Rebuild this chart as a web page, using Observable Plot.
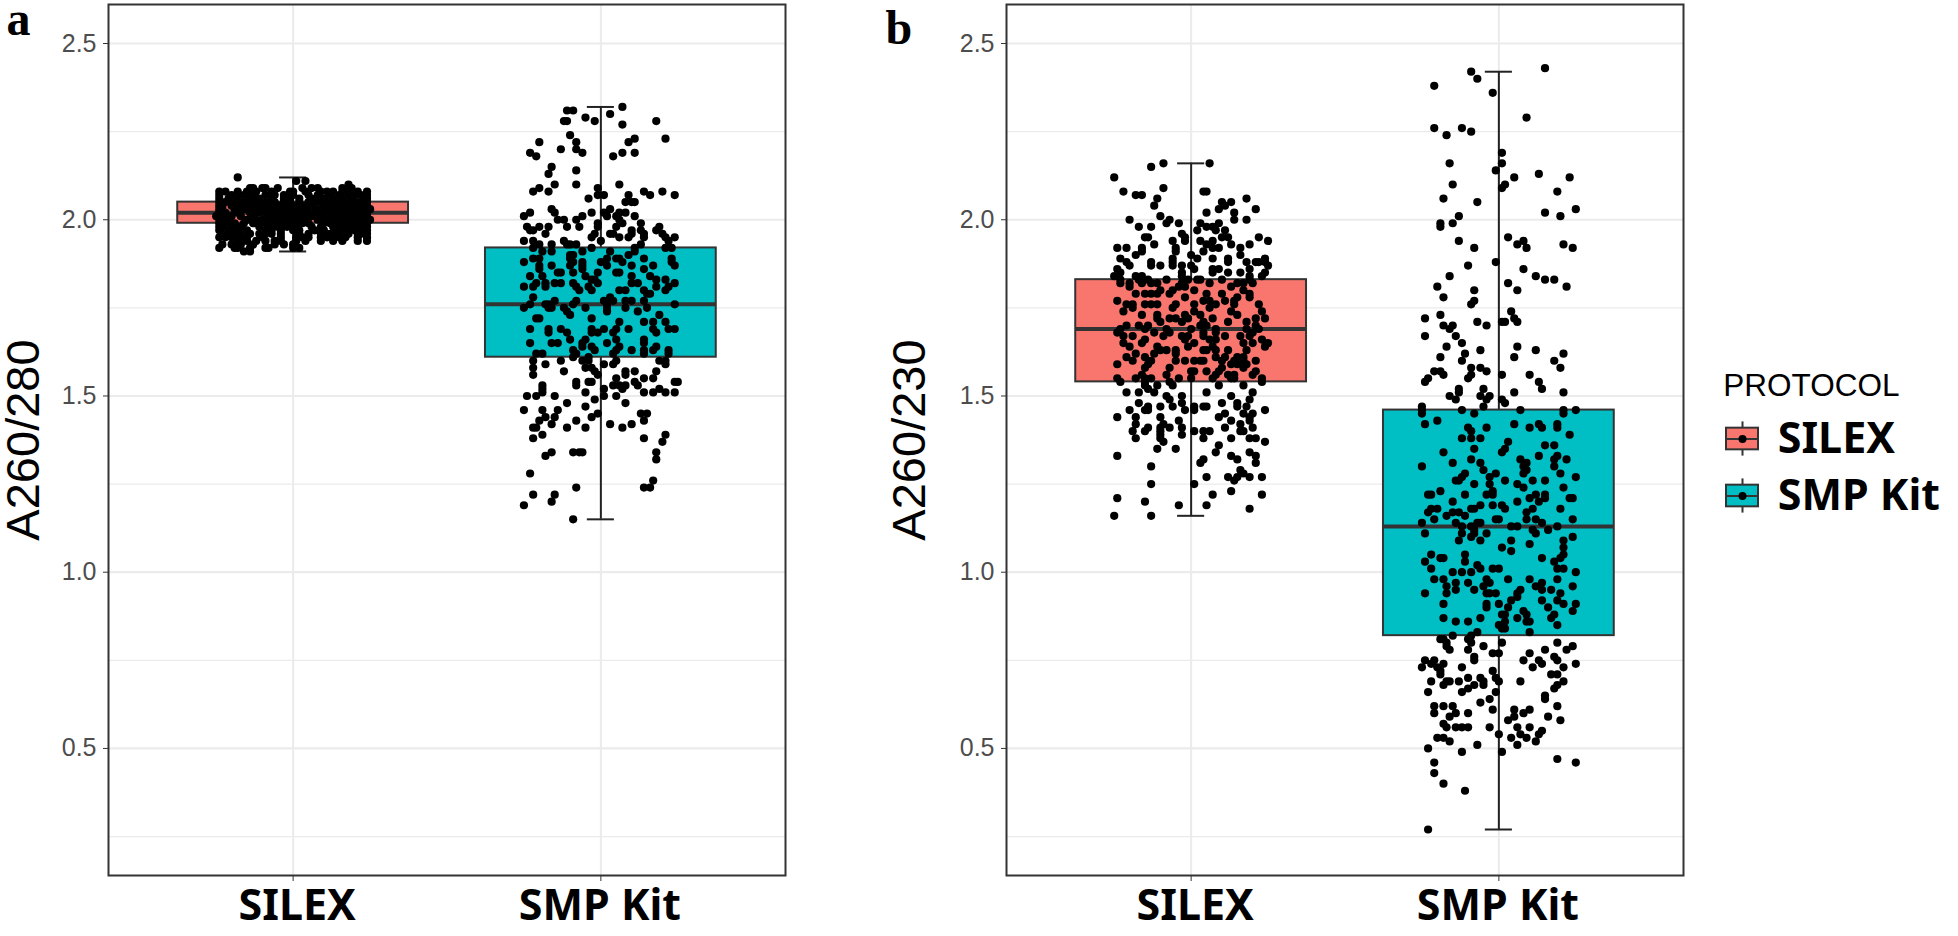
<!DOCTYPE html>
<html>
<head>
<meta charset="utf-8">
<script src="https://cdn.jsdelivr.net/npm/d3@7"></script>
<script src="https://cdn.jsdelivr.net/npm/@observablehq/plot@0.6"></script>
<style>
html,body{margin:0;padding:0;background:#fff;}
#page{position:relative;width:1958px;height:936px;overflow:hidden;}
</style>
</head>
<body>
<div id="page"></div>
<script>
const protocols = ["SILEX", "SMP Kit"];
const colors = ["#F8766D", "#00BFC4"];
const majorTicks = [0.5, 1, 1.5, 2, 2.5];
const minorTicks = [0.25, 0.75, 1.25, 1.75, 2.25];

// Box statistics, one entry per protocol
const a280Q1 = [1.99, 1.61], a280Median = [2.02, 1.76], a280Q3 = [2.05, 1.92], a280Min = [1.91, 1.15], a280Max = [2.12, 2.32];
const a230Q1 = [1.54, 0.82], a230Median = [1.69, 1.13], a230Q3 = [1.83, 1.46], a230Min = [1.16, 0.27], a230Max = [2.16, 2.42];

// Each row: a reading, then the horizontal jitter (hundredths of a category) of every sample at that reading
const a280Silex = [
[2.12,-18],[2.11,1,4],[2.10,18],[2.09,-14,-13,-10,-9,-5,3,6,8,16,19],
[2.08,-24,-22,-18,-15,-12,-7,-1,0,4,9,11,13,16,18,21,24],[2.07,-24,-20,-16,-13,-9,-6,-3,0,5,8,12,15,18,20,22,24],
[2.06,-24,-21,-18,-15,-13,-11,-7,-3,-1,2,6,10,13,16,19,23,24],
[2.05,-24,-22,-19,-16,-13,-9,-6,-3,-1,2,5,7,9,12,14,17,21,23,24],
[2.04,-24,-23,-20,-17,-14,-11,-8,-5,-2,0,3,6,10,13,15,18,20,23,24],
[2.03,-24,-23,-19,-16,-12,-10,-7,-4,-1,1,4,8,11,14,16,19,22,24,25],
[2.02,-24,-22,-18,-14,-11,-9,-6,-3,0,2,5,7,10,12,15,18,21,23,24],
[2.01,-25,-23,-20,-17,-13,-8,-5,-2,1,3,6,9,13,16,19,22,24],
[2.00,-24,-23,-21,-15,-12,-10,-7,-4,-1,2,4,8,11,14,17,20,23,25],
[1.99,-24,-22,-19,-16,-13,-9,-6,-3,0,3,5,10,12,15,18,21,23,24],
[1.98,-24,-23,-20,-17,-11,-8,-5,-2,1,6,9,13,16,19,22,24],
[1.97,-24,-21,-18,-15,-9,-7,-4,0,2,7,10,14,17,20,23,24],
[1.96,-23,-21,-19,-17,-14,-11,-9,-7,-4,2,5,9,12,15,18,21,22,24],
[1.95,-24,-22,-20,-17,-15,-10,-4,1,3,5,9,11,13,15,17,21,24],
[1.94,-18,-15,-12,-9,-6,-4,1,4,9,13,16,21,24],[1.93,-23,-20,-17,-13,-6,-3,0],
[1.92,-24,-19,-18,-14,-9,-8,0,2],[1.91,-16,-14]
];

const a280Smp = [
[2.32,7],[2.31,-11,-9],[2.30,3],[2.29,-5],[2.28,-12,-11,-2,18],[2.27,7],[2.24,-10],[2.23,11,21],
[2.22,-20,-8,9],[2.20,-13,-8],[2.19,-23,-6,7,11],[2.18,-21,4],[2.15,-16],[2.14,-8],[2.13,-17],
[2.10,-15,-8,6],[2.09,-1,-20],[2.08,-22,-17,14,20],[2.07,16,24,-1,1,9],[2.06,-4],[2.05,8,11,10],
[2.03,-16,3],[2.02,-15,-23,-3,1,8,6],[2.01,-25,-6,2,5,11],[2.00,-14,-12,-8,6],[1.99,-1,7,13],
[1.98,-24,-20,-17,-11,-7,-1,5,19],[1.97,-23,-22,10,13,18],[1.96,-18,-2,3,4,10,14,20],
[1.95,-3,6,9,14,24,21],[1.94,-25,-22,-12,0,22],[1.93,-11,-20,-16,-10,-8,13],[1.92,-22,-3,11,21,23],
[1.91,-19,-16,-6,3,11],[1.90,-10,-9,9],[1.89,-22,-20,-10,2,5,6,14,23],[1.88,-25,-9,-6,0,7,23],
[1.87,-20,-16,-10,-6,2,10,17,24],[1.86,-6,-20,14],[1.85,-14,-13,-1,5,6,-9],[1.84,-23,-19,-5,10,16],
[1.83,-3,-2,18,21],[1.82,-21,-18,-15,-13,-9,-1,10,12,24],[1.81,18,-25,-22,-18,-8,-4,22],
[1.80,-7,-3,6,8,14,21],[1.79,16,15],[1.78,-22,3],[1.77,1,-15,-8,4,8,10,14],[1.76,-23,-18,-17,-9,2,24],
[1.75,-25,-17,-16,-12,-5,2,8,15],[1.74,2,12,-11],[1.73,-10,19],[1.72,-21,-20,-3],[1.71,6,17,21,14],
[1.69,-23,-3,9,17,24,-17,-13,1,5,22],[1.68,-3,-1,4,18,-11,-17],[1.66,-10,-5,5,14],
[1.65,-23,-16,-14,2,-6,14],[1.64,-3,6,-6,18],[1.63,-9,-2,10,5,14,17,22],[1.62,-21,-19,-8,4,14,22],
[1.61,-9,-4],[1.60,-22,-13,-6,-4,5,19,21],[1.59,-18,1,4,21],[1.58,-22,-5,-3],[1.57,-12,-2,8,11,18],
[1.56,-22,-1,8],[1.55,17,5,14],[1.54,-8,-4,-3,11,24,25],[1.53,-19,-8,4,8,6,12],[1.52,-19,1,7,19],
[1.51,-19,-5,14,17,21,24],[1.50,-24,-21,-15,1,5],[1.49,-2],[1.48,-11,8],[1.47,-5],[1.46,-25,-19,-14],
[1.45,13,15,-1],[1.44,-18,-15,-3],[1.43,-20,-8,14],[1.42,-16,3,10],[1.41,-21,-22,-11,-5,7],
[1.39,-19,21],[1.38,-22,14],[1.37,20],[1.34,-16,-9,-7,-6,18],[1.33,-18],[1.32,18],[1.28,-23],[1.26,17],
[1.24,-8,14,16],[1.22,-22,-15],[1.20,-16],[1.19,-25],[1.15,-9]
];

const a230Silex = [
[2.16,-9,6],[2.15,-13],[2.12,-25],[2.09,-9],[2.08,-22,4,5],[2.07,-18,-16],[2.06,-11,18],[2.05,10,13],
[2.04,-12,11],[2.03,9,21],[2.02,5,14],[2.01,-10],[2.00,-20,-7,14,18],[1.99,-8,-4,3,9],
[1.98,-17,-13,5,7],[1.97,2,8,11],[1.96,-3],[1.95,-15,-14,-2,10,12,22],[1.94,-6,3,7,-2,25],
[1.93,-12,5,13,19],[1.92,-24,-21,-16,-5,7,9,16],[1.91,-16,-5,4],[1.90,-18,0,16],
[1.89,-23,-6,2,7,12,24],[1.88,-21,-13,-6,12,18,21,22,24],[1.87,-20,-13,-10,-6,-3,0,25],
[1.86,-24,1,7,9,19],[1.85,-23,-3,7,12,16,24],[1.84,-25,-18,-16,-3,19,23],
[1.83,-23,-17,-14,-8,-1,2,3,10,19],[1.82,-23,-20,-16,-13,-11,-3,6,15,17,20],[1.81,-20,-4,-2,13],
[1.80,-10,-6,1,17],[1.79,-18,-15,-13,-11,-7,5,10,19],[1.78,-2,15,19],[1.77,-24,4,6,11,14],
[1.76,-21,-19,-15,-13,-11,-5,1,8,22,14],[1.75,-19,-6,6],[1.74,-22,1,13,23],[1.73,-16,-11,3,-2,15],
[1.72,7,24,-11,-7,-5,-1,21],[1.71,-10,-3,4,12,18],[1.70,3,-21,-17,-14,5,21],
[1.69,-23,-15,-8,8,18,22,0],[1.68,-24,-12,-7,4,8,20],[1.67,11,-9,-3,-1,4,16,19,-22,-19],
[1.66,-15,-2,8,6,23],[1.65,-22,-16,1,17,20,25],[1.64,7,-20,-11,-1,24],[1.63,-8,-5,4,8,18,-10,5,12],
[1.62,-18,-12,-5],[1.61,8,17,-21,-15,11,15],[1.60,-19,-13,-5,-2,1,3,4,10,14,21,17],
[1.59,-24,-14,13,18,15],[1.58,-15,-7,10,17],[1.57,0,5,9,21,1],[1.56,-16,-8,8,12,14,20],
[1.55,-24,-18,-13,-4,0,7,13,14,23,-15],[1.54,-23,-7,-15,23],[1.53,-15,-11,-6,9,17],[1.52,-14],
[1.51,-21,-17,-12,5,20],[1.50,-8,-3,13],[1.49,-7,19],[1.48,-17,-3,10,15],
[1.47,-14,-10,-6,1,4,5,18,15],[1.46,-20,-15,-14,-2,1,24],[1.45,11,17,20],[1.44,-24,-18,-10,9,19],
[1.43,13,-4,19],[1.42,-18,-9,16],[1.41,-14,-10,-7,-3,11,20],[1.40,-15,-19,-10,1,4,6,16,17],
[1.39,-3,-10],[1.38,-18,4,13,19,21,-10],[1.37,-9,24],[1.36,9],[1.35,-11,-5],[1.34,8,19],
[1.33,-24,13,21],[1.32,15,4],[1.31,3,21],[1.30,-13],[1.29,16],[1.28,17],[1.27,5,12,15,19,23],
[1.26,14],[1.25,-13,1],[1.23,13],[1.22,7,23],[1.21,-24],[1.20,-15],[1.19,-4,5],[1.18,19],[1.16,-25,-13]
];

const a230Smp = [
[2.43,15],[2.42,-9],[2.40,-7],[2.38,-21],[2.36,-2],[2.29,9],[2.26,-21,-12],[2.25,-9],[2.24,-17],[2.19,1],
[2.16,-16,1],[2.14,-1],[2.13,13],[2.12,5,23],[2.10,2,-15],[2.09,1],[2.08,19],[2.06,-18],[2.05,-7],[2.03,25],
[2.02,15],[2.01,-13,20],[1.99,-19,-15],[1.98,-19],[1.95,3],[1.94,8,-13],[1.93,6,21],[1.92,-8,9,24],
[1.88,-1],[1.87,-10],[1.86,8],[1.84,-16,12],[1.83,15,18],[1.82,3],[1.81,-20,22],[1.80,-8,6],[1.78,-18],
[1.77,-8],[1.76,-9],[1.74,4],[1.73,-19],[1.72,-24,5],[1.71,-7,1,2,6],[1.70,-18,-15,-4],[1.69,-16],
[1.67,-14,-24],[1.65,-12],[1.64,-17,6],[1.63,-6,12],[1.62,-11,21],[1.61,-19,5],[1.60,-12,18],
[1.58,-6,-9,20],[1.57,-21,-19,-4],[1.56,1,10,-18,-9],[1.55,-10,-23],[1.54,-24,13],[1.52,14,-13,-5],
[1.51,-13,5,21],[1.50,-16,-6,-3],[1.49,-14,-4,1],[1.48,2],[1.47,-25,-5],[1.46,-25,-12,7,21,25],
[1.45,-25,-8,21],[1.43,-20],[1.42,-24,5,13,19],[1.41,-10,-4,10,14,19],[1.40,-9],[1.39,23],
[1.38,-12,-9,-6],[1.37,3],[1.36,15,18],[1.35,-8,2],[1.34,-18,1],[1.33,13,19],[1.32,-9,7,22,18],
[1.31,-15,-6,9],[1.30,8,-25,18],[1.29,-5,9],[1.28,-11,-1,20,8],[1.27,-12,-3,25],
[1.26,-13,2,11,15,-14],[1.25,-8,-3,6],[1.24,8,21],[1.23,-2,-19],[1.22,-23,-22,-11,-4,-2,12,15],
[1.21,10,15,23,24],[1.20,-15,6,13],[1.19,-6,-2,1],[1.18,-8,-9,2,-22,-20,11,20],[1.17,-23,-15,-13,9],
[1.16,-17,-11],[1.15,-21,-1,0,9,12,24],[1.14,-25,-14,14,-7,-6],[1.13,-12,-9,4,6,19],[1.12,-8,16,11],
[1.11,-24,-12,-4,12,-8],[1.10,-9,24],[1.09,-13,-6,4,21],[1.08,10],[1.07,1,21],[1.06,4],[1.05,-22,-11,21],
[1.04,-19,-18,14,20],[1.03,-24,-11,18],[1.02,-7],[1.01,-6,-22,-2,0,19,21],[1.00,-15,-12,-9,25],
[0.98,-21,-18,-4,3,10,19],[0.97,-14,-10,-3,14],[0.96,-17,-5,12,24],[0.95,-8,-14,7,14,17],
[0.94,-24,-17,-4,-3,-1,6,20],[0.93,6],[0.92,4,14,19],[0.91,-18,-4,0,21,25],[0.90,-4,3,16],[0.89,8,24],
[0.88,1,2,9,18],[0.87,-18,-6,6,17],[0.86,-14,-10,9,10,2],[0.85,0,19],[0.84,2,1],[0.83,-7,10],[0.82,-15,-9],
[0.81,-19,-18,-10],[0.80,1,-17,-9,19],[0.79,-5,24,-17],[0.78,-16,-10,15,22],[0.77,-2,0,10],[0.76,18,-8],
[0.75,-24,-21,-8,8,13,19],[0.74,-22,-18,25,14],[0.73,-25,-20,-12,11,21],[0.72,-19,-2],[0.71,17,19,-19],
[0.70,-6,-10,-1],[0.69,-22,-17,-16,-13,-5,0,7,21],[0.68,-18,-8,-5,19],[0.67,-10,18],[0.66,-23,-12,-1],
[0.65,15],[0.64,-3,15],[0.63,-6],[0.62,-21,-18,-15,19],[0.61,-2,5,10],[0.60,-21,-14,-10,8],[0.59,-16,5,16],
[0.58,3,20],[0.57,-18],[0.56,-17,-14,-12,-10,-3,6,10],[0.55,14],[0.54,13,0,7],[0.53,-20,-18,4,9],
[0.52,-16,12],[0.51,-7,6],[0.50,-23],[0.49,-12,1],[0.47,19],[0.46,-21,25],[0.43,-21],[0.40,-18],[0.38,-11],
[0.27,-23]
];

const flatten = (rows, i) => rows.flatMap(([value, ...jitter]) => jitter.map(j => ({pos: i + 1 + j / 100, value})));
const stats = (q1, med, q3, lo, hi) => protocols.map((p, i) => ({pos: i + 1, name: p, fill: colors[i], q1: q1[i], med: med[i], q3: q3[i], lo: lo[i], hi: hi[i]}));

const dark = "#333333";
const whisker = "#222222";
const grid = "#ebebeb";
const capHalf = 0.044, boxHalf = 0.375;
const catLabel = {frameAnchor: "bottom", lineAnchor: "top", textAnchor: "middle", text: "name", x: "pos", fontSize: 43, fontFamily: "Noto Sans", fontWeight: "bold", fill: "black"};

function panel({points, boxes, label, tag, left, marginLeft, labelDx, tagDx, tagDy}) {
  const width = marginLeft + 677 + 5;
  return Plot.plot({
    width, height: 936,
    marginLeft, marginRight: 5, marginTop: 4, marginBottom: 61,
    style: {position: "absolute", left: left + "px", top: "0px", background: "transparent", maxWidth: "none", overflow: "visible"},
    x: {domain: [0.4, 2.6], axis: null},
    y: {domain: [0.1395, 2.6107], axis: null},
    marks: [
      Plot.gridY(minorTicks, {stroke: grid, strokeOpacity: 1, strokeWidth: 1.3}),
      Plot.gridY(majorTicks, {stroke: grid, strokeOpacity: 1, strokeWidth: 2.2}),
      Plot.gridX([1, 2], {stroke: grid, strokeOpacity: 1, strokeWidth: 2}),
      Plot.ruleX(boxes, {x: "pos", y1: "lo", y2: "hi", stroke: whisker, strokeWidth: 2}),
      Plot.ruleY(boxes, {y: "lo", x1: d => d.pos - capHalf, x2: d => d.pos + capHalf, stroke: whisker, strokeWidth: 2}),
      Plot.ruleY(boxes, {y: "hi", x1: d => d.pos - capHalf, x2: d => d.pos + capHalf, stroke: whisker, strokeWidth: 2}),
      Plot.rect(boxes, {x1: d => d.pos - boxHalf, x2: d => d.pos + boxHalf, y1: "q1", y2: "q3", fill: "fill", stroke: dark, strokeWidth: 2}),
      Plot.ruleY(boxes, {y: "med", x1: d => d.pos - boxHalf, x2: d => d.pos + boxHalf, stroke: dark, strokeWidth: 4}),
      Plot.dot(points, {x: "pos", y: "value", r: 4.1, fill: "black", stroke: "none"}),
      Plot.frame({stroke: dark, strokeWidth: 2}),
      Plot.axisY(majorTicks, {tickSize: 5, tickPadding: 7, tickFormat: d3.format(".1f"), fontSize: 25, fontFamily: "Liberation Sans", color: "#4d4d4d", stroke: dark, label: null}),
      Plot.axisX([1, 2], {tickSize: 6, tickFormat: () => "", stroke: dark, label: null}),
      Plot.text(boxes.slice(0, 1), {...catLabel, dy: 14, dx: 4}),
      Plot.text(boxes.slice(1), {...catLabel, dy: 14, dx: -1}),
      Plot.text([label], {frameAnchor: "left", textAnchor: "middle", rotate: -90, dx: labelDx, fontSize: 47, fontFamily: "Liberation Sans", fill: "black"}),
      Plot.text([tag], {frameAnchor: "top-left", textAnchor: "start", lineAnchor: "bottom", dx: tagDx, dy: tagDy, fontSize: 48, fontWeight: "bold", fontFamily: "Liberation Serif", fill: "black"})
    ]
  });
}

function legend() {
  const rows = protocols.map((p, i) => ({row: i, name: p, fill: colors[i]}));
  return Plot.plot({
    width: 258, height: 160, margin: 0,
    style: {position: "absolute", left: "1700px", top: "360px", background: "transparent", maxWidth: "none", overflow: "visible"},
    x: {domain: [-42 / 16, 216 / 16], axis: null},
    y: {domain: [-78.5 / 57, 81.5 / 57], range: [0, 160], axis: null},
    marks: [
      Plot.ruleX(rows, {x: 0, y1: d => d.row - 0.3, y2: d => d.row + 0.3, stroke: dark, strokeWidth: 2}),
      Plot.rect(rows, {x1: -1, x2: 1, y1: d => d.row - 0.19, y2: d => d.row + 0.19, fill: "fill", stroke: dark, strokeWidth: 2}),
      Plot.ruleY(rows, {y: "row", x1: -1, x2: 1, stroke: dark, strokeWidth: 2}),
      Plot.dot(rows, {x: 0, y: "row", r: 4, fill: "black", stroke: "none"}),
      Plot.text(rows, {x: 2.2, y: "row", text: "name", textAnchor: "start", fontSize: 43, fontWeight: "bold", fontFamily: "Noto Sans", fill: "black"}),
      Plot.text(["PROTOCOL"], {x: -1.2, y: -0.93, textAnchor: "start", fontSize: 31.5, fontFamily: "Liberation Sans", fill: "black"})
    ]
  });
}

const page = document.getElementById("page");
page.append(
  panel({
    points: [...flatten(a280Silex, 0), ...flatten(a280Smp, 1)],
    boxes: stats(a280Q1, a280Median, a280Q3, a280Min, a280Max),
    label: "A260/280", tag: "a", left: 0, marginLeft: 108, labelDx: -85, tagDx: -102, tagDy: 30
  }),
  panel({
    points: [...flatten(a230Silex, 0), ...flatten(a230Smp, 1)],
    boxes: stats(a230Q1, a230Median, a230Q3, a230Min, a230Max),
    label: "A260/230", tag: "b", left: 870, marginLeft: 136, labelDx: -97, tagDx: -121, tagDy: 39
  }),
  legend()
);
</script>
</body>
</html>
